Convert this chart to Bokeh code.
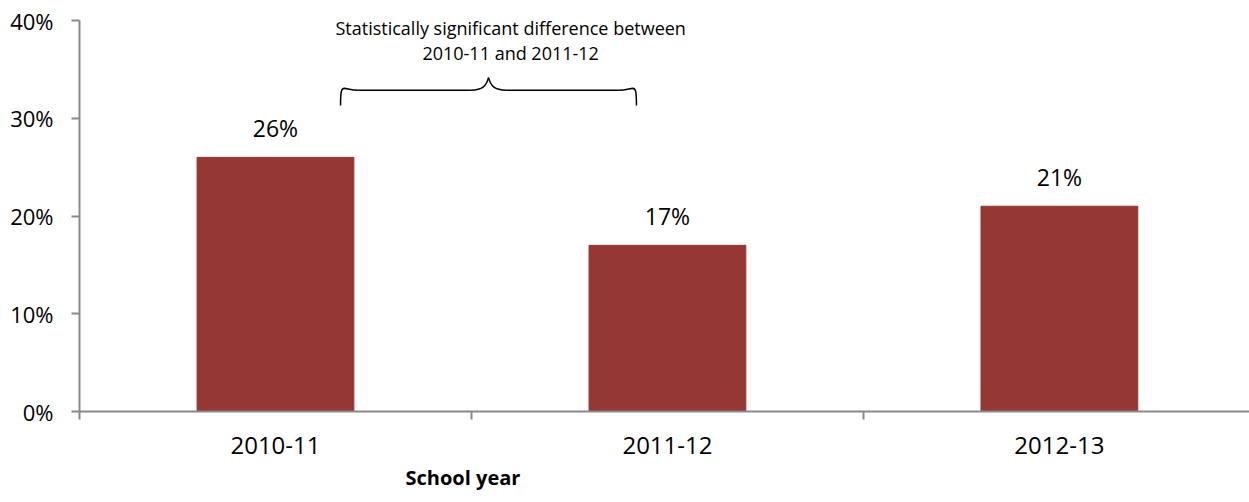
from bokeh.plotting import figure
from bokeh.models import (ColumnDataSource, FixedTicker, NumeralTickFormatter,
                          Range1d, Label, Title)
from bokeh.core.properties import value
from bokeh.embed import file_html
from bokeh.resources import INLINE

# Share of students by school year
years = ["2010-11", "2011-12", "2012-13"]
shares = [0.26, 0.17, 0.21]
y_ticks = [0.0, 0.1, 0.2, 0.3, 0.4]
note_lines = ["Statistically significant difference between", "2010-11 and 2011-12"]
x_title = "School year"

FONT = "Open Sans"
BAR = "#953735"
AXIS = "#898989"

centers = [i + 0.5 for i in range(len(years))]
labels = [f"{round(v * 100)}%" for v in shares]
src = ColumnDataSource(dict(x=centers, top=shares, label=labels))

p = figure(width=1249, height=502, output_backend="svg", toolbar_location=None,
           x_range=Range1d(0, 2.985), y_range=Range1d(0, 0.4),
           min_border_left=79, min_border_right=0, min_border_top=20,
           min_border_bottom=91)
p.outline_line_color = None
p.xgrid.visible = False
p.ygrid.visible = False

p.vbar(x="x", top="top", bottom=0, width=0.4, source=src,
       fill_color=BAR, line_color=BAR)

p.text(x="x", y="top", text="label", source=src, text_align="center",
       text_baseline="bottom", y_offset=-13, text_font=value(FONT),
       text_font_size="23px", text_color="black")

# X axis: category names centred, tick marks at category boundaries
xa = p.xaxis[0]
xa.ticker = FixedTicker(ticks=centers, minor_ticks=list(range(len(years) + 1)))
xa.major_label_overrides = {c: y for c, y in zip(centers, years)}
xa.major_tick_out = 0
xa.major_tick_in = 0
xa.minor_tick_out = 8
xa.minor_tick_in = 0
xa.minor_tick_line_color = AXIS
xa.axis_line_color = AXIS
xa.axis_line_width = 2
xa.minor_tick_line_width = 2
xa.major_label_text_font = FONT
xa.major_label_text_font_size = "24px"
xa.major_label_text_color = "black"
xa.major_label_standoff = 17

ya = p.yaxis[0]
ya.ticker = FixedTicker(ticks=y_ticks, minor_ticks=[])
ya.formatter = NumeralTickFormatter(format="0%")
ya.major_tick_out = 8
ya.major_tick_in = 0
ya.major_tick_line_color = AXIS
ya.major_tick_line_width = 2
ya.axis_line_color = AXIS
ya.axis_line_width = 2
ya.major_label_text_font = FONT
ya.major_label_text_font_size = "22px"
ya.major_label_text_color = "black"
ya.major_label_standoff = 18

# Axis title, set under the first half of the axis
p.add_layout(Title(text=x_title, align="left", offset=326, standoff=10,
                   text_font=FONT, text_font_size="20px", text_font_style="bold",
                   text_color="black"), "below")

# Curly brace spanning the first two years
x0, x1 = 0.666, 1.421
xm = (x0 + x1) / 2
yb, yh, yt = 0.313, 0.3287, 0.3415
dx = 0.045
p.bezier(x0=[x0, xm - dx, xm, x1 - dx],
         y0=[yb, yh, yt, yh],
         x1=[x0 + dx, xm, xm + dx, x1],
         y1=[yh, yt, yh, yb],
         cx0=[x0, xm - 0.015, xm + 0.005, x1 - 0.005],
         cy0=[yh + 0.010, yh, yt - 0.008, yh],
         cx1=[x0 + 0.005, xm - 0.005, xm + 0.015, x1],
         cy1=[yh, yt - 0.008, yh, yh + 0.010],
         line_color="black", line_width=1.5)
p.segment(x0=[x0 + dx, xm + dx], y0=[yh, yh], x1=[xm - dx, x1 - dx], y1=[yh, yh],
          line_color="black", line_width=1.5)

for i, line in enumerate(note_lines):
    p.add_layout(Label(x=1.10, y=0.4, text=line, text_align="center",
                       text_baseline="middle", y_offset=-7 - 25 * i,
                       text_font=FONT, text_font_size="18px", text_color="black"))

open("out.html", "w").write(file_html(p, INLINE))
